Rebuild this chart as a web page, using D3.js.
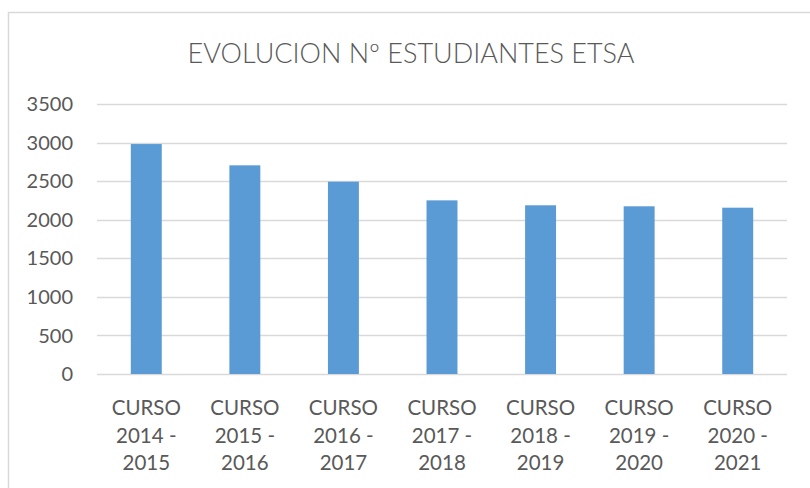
<!DOCTYPE html>
<meta charset="utf-8">
<title>Evolucion estudiantes ETSA</title>
<style>
body { margin: 0; background: #fff; }
text { font-family: Lato, "Open Sans", sans-serif; fill: #595959; }
</style>
<svg width="810" height="488"></svg>
<script src="https://cdn.jsdelivr.net/npm/d3@7"></script>
<script>

var cursos = [
  ["CURSO", "2014 -", "2015"],
  ["CURSO", "2015 -", "2016"],
  ["CURSO", "2016 -", "2017"],
  ["CURSO", "2017 -", "2018"],
  ["CURSO", "2018 -", "2019"],
  ["CURSO", "2019 -", "2020"],
  ["CURSO", "2020 -", "2021"]
];
var estudiantes = [2981, 2705, 2493, 2251, 2187, 2174, 2156];
var yTicks = [0, 500, 1000, 1500, 2000, 2500, 3000, 3500];
var titulo = "EVOLUCION Nº ESTUDIANTES ETSA";

var svg = d3.select("svg"),
    width = +svg.attr("width"),
    height = +svg.attr("height");

// chart area border (only top and left visible)
svg.append("rect")
    .attr("x", 8.5).attr("y", 12.5)
    .attr("width", width + 20).attr("height", height + 20)
    .attr("fill", "#fff")
    .attr("stroke", "#d9d9d9")
    .attr("stroke-width", 1.5);

var plotLeft = 97, plotRight = 787, plotTop = 104, plotBottom = 374;

var x = d3.scaleBand()
    .domain(d3.range(cursos.length))
    .range([plotLeft, plotRight])
    .paddingInner(0.686)
    .paddingOuter(0.343);

var y = d3.scaleLinear()
    .domain([0, 3500])
    .range([plotBottom, plotTop]);

// gridlines
svg.append("g")
  .selectAll("line")
  .data(yTicks)
  .enter().append("line")
    .attr("x1", plotLeft).attr("x2", plotRight)
    .attr("y1", function(d) { return Math.round(y(d)) + 0.5; })
    .attr("y2", function(d) { return Math.round(y(d)) + 0.5; })
    .attr("stroke", "#d9d9d9")
    .attr("stroke-width", 1.5);

// y labels
svg.append("g")
  .selectAll("text")
  .data(yTicks)
  .enter().append("text")
    .attr("x", 73)
    .attr("y", function(d) { return y(d); })
    .attr("dy", "0.36em")
    .attr("text-anchor", "end")
    .style("font-size", "20px")
    .text(function(d) { return d; });

// bars
svg.append("g")
  .selectAll("rect")
  .data(estudiantes)
  .enter().append("rect")
    .attr("x", function(d, i) { return x(i); })
    .attr("width", x.bandwidth())
    .attr("y", function(d) { return y(d); })
    .attr("height", function(d) { return y(0) - y(d); })
    .attr("fill", "#5b9bd5");

// category labels
var cat = svg.append("g")
  .selectAll("text")
  .data(cursos)
  .enter().append("text")
    .attr("text-anchor", "middle")
    .attr("transform", function(d, i) { return "translate(" + (x(i) + x.bandwidth() / 2) + ",0)"; })
    .style("font-size", "20.5px");

cat.selectAll("tspan")
  .data(function(d) { return d; })
  .enter().append("tspan")
    .attr("x", 0)
    .attr("y", function(d, j) { return 415 + j * 27.5; })
    .text(function(d) { return d; });

// title
svg.append("text")
    .attr("x", 411)
    .attr("y", 63)
    .attr("text-anchor", "middle")
    .style("font-size", "27px")
    .style("font-weight", 300)
    .text(titulo);

</script>
